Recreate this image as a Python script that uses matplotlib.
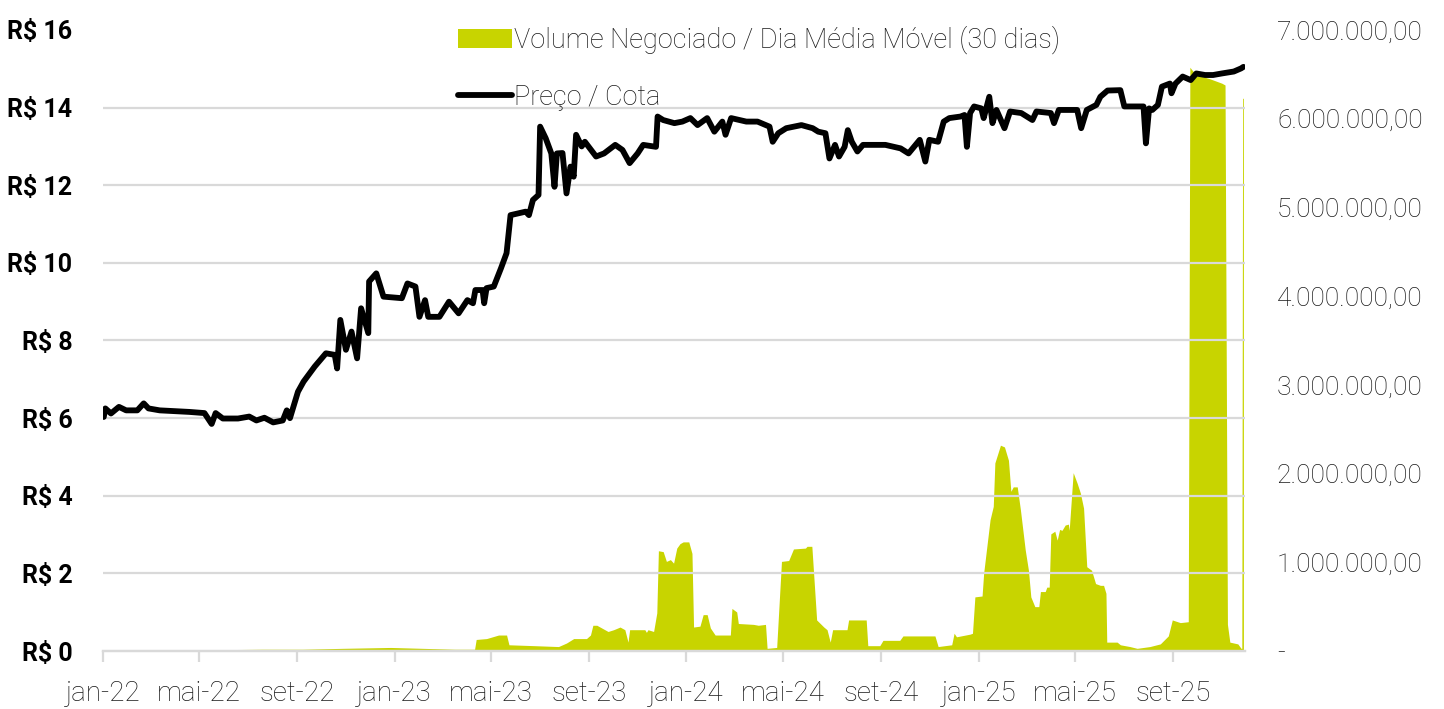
#!/usr/bin/env python3

import numpy as np
import pandas as pd
import matplotlib
matplotlib.use("Agg")
import matplotlib.pyplot as plt
import matplotlib.dates as mdates
from matplotlib.ticker import FuncFormatter, MultipleLocator, FixedLocator

plt.rcParams['font.family'] = ['Roboto', 'DejaVu Sans']

# data; time is in days since 2022-01-01
start = pd.Timestamp('2022-01-01')

price_day = [1, 3, 10, 20, 29, 43, 51, 57, 71, 90, 108, 127, 136, 141, 150, 169, 183, 192, 202, 213,
             225, 230, 234, 244, 251, 265, 279, 290, 293, 297, 304, 311, 318, 323, 332, 333, 342, 351,
             374, 381, 391, 396, 403, 407, 421, 433, 445, 456, 463, 466, 475, 477, 480, 489, 498, 505,
             510, 529, 533, 538, 545, 547, 554, 561, 565, 568, 575, 580, 585, 589, 592, 599, 603, 617,
             627, 641, 650, 659, 669, 676, 692, 694, 701, 715, 725, 735, 744, 756, 765, 775, 779, 786,
             805, 819, 834, 838, 845, 855, 874, 888, 895, 904, 909, 916, 921, 928, 932, 937, 944, 951,
             979, 998, 1008, 1022, 1029, 1034, 1045, 1052, 1059, 1073, 1078, 1081, 1085, 1090, 1099,
             1102, 1109, 1113, 1118, 1128, 1135, 1149, 1163, 1168, 1186, 1190, 1196, 1219, 1224, 1231,
             1243, 1248, 1257, 1273, 1278, 1302, 1305, 1309, 1313, 1320, 1325, 1335, 1337, 1342, 1351,
             1361, 1368, 1379, 1389, 1400, 1415, 1424, 1427]
price = [6.03, 6.25, 6.12, 6.29, 6.20, 6.20, 6.38, 6.25, 6.20, 6.18, 6.16, 6.13, 5.85, 6.13, 5.99, 5.99,
         6.04, 5.94, 6.01, 5.89, 5.94, 6.20, 6.00, 6.68, 6.94, 7.33, 7.67, 7.63, 7.28, 8.53, 7.76, 8.23,
         7.54, 8.83, 8.19, 9.52, 9.73, 9.13, 9.09, 9.47, 9.39, 8.61, 9.04, 8.61, 8.61, 9.00, 8.70, 9.04,
         8.96, 9.30, 9.30, 8.96, 9.35, 9.39, 9.86, 10.25, 11.23, 11.32, 11.23, 11.62, 11.75, 13.51, 13.21,
         12.82, 11.96, 12.82, 12.83, 11.79, 12.48, 12.22, 13.30, 13.00, 13.12, 12.74, 12.82, 13.04, 12.91,
         12.57, 12.82, 13.04, 12.99, 13.77, 13.68, 13.60, 13.64, 13.73, 13.55, 13.73, 13.38, 13.64, 13.30,
         13.73, 13.64, 13.64, 13.51, 13.12, 13.34, 13.47, 13.55, 13.47, 13.38, 13.34, 12.69, 13.04, 12.74,
         12.99, 13.42, 13.12, 12.87, 13.04, 13.04, 12.95, 12.82, 13.17, 12.61, 13.17, 13.12, 13.64, 13.73,
         13.77, 13.81, 12.99, 13.86, 14.03, 13.98, 13.73, 14.28, 13.60, 13.94, 13.47, 13.90, 13.86, 13.68,
         13.90, 13.86, 13.60, 13.94, 13.94, 13.47, 13.94, 14.07, 14.28, 14.44, 14.45, 14.03, 14.03, 13.08,
         13.98, 13.94, 14.07, 14.54, 14.62, 14.37, 14.62, 14.80, 14.71, 14.88, 14.84, 14.84, 14.88, 14.93,
         15.01, 15.05]

vol_day = [0, 100, 150, 200, 250, 300, 360, 400, 440, 465, 467, 480, 495, 505, 508, 540, 570, 580, 589,
           605, 610, 613, 618, 624, 632, 639, 647, 653, 657, 659, 678, 680, 682, 689, 693, 695, 701, 705,
           710, 714, 718, 722, 726, 733, 737, 739, 747, 751, 756, 760, 766, 785, 787, 793, 795, 814, 820,
           829, 831, 843, 849, 858, 864, 879, 881, 887, 893, 902, 906, 910, 913, 931, 933, 955, 957, 972,
           976, 997, 1001, 1041, 1045, 1062, 1065, 1068, 1085, 1088, 1091, 1100, 1102, 1110, 1114, 1116,
           1123, 1128, 1133, 1136, 1139, 1144, 1148, 1154, 1158, 1161, 1166, 1171, 1173, 1179, 1181, 1184,
           1186, 1191, 1194, 1197, 1200, 1204, 1208, 1209, 1214, 1219, 1223, 1227, 1231, 1237, 1242, 1248,
           1252, 1255, 1256, 1269, 1273, 1285, 1294, 1310, 1323, 1333, 1338, 1348, 1358, 1360, 1367, 1385,
           1400, 1404, 1407, 1410, 1420, 1424, 1425, 1426, 1427]
# volume in millions of R$
vol_mi = [0.01, 0.01, 0.015, 0.02, 0.02, 0.03, 0.04, 0.03, 0.02, 0.02, 0.13, 0.14, 0.18, 0.18, 0.07, 0.06,
          0.05, 0.09, 0.14, 0.14, 0.18, 0.29, 0.29, 0.26, 0.22, 0.24, 0.27, 0.24, 0.10, 0.24, 0.24, 0.21,
          0.24, 0.22, 0.43, 1.13, 1.12, 1.01, 1.03, 0.99, 1.16, 1.21, 1.23, 1.23, 1.10, 0.27, 0.28, 0.41,
          0.41, 0.26, 0.18, 0.18, 0.48, 0.44, 0.31, 0.30, 0.29, 0.30, 0.03, 0.04, 1.01, 1.02, 1.15, 1.16,
          1.18, 1.18, 0.35, 0.27, 0.24, 0.10, 0.24, 0.24, 0.35, 0.35, 0.06, 0.06, 0.12, 0.12, 0.17, 0.17,
          0.05, 0.07, 0.20, 0.16, 0.19, 0.20, 0.61, 0.62, 0.88, 1.48, 1.63, 2.12, 2.32, 2.30, 2.15, 1.80,
          1.85, 1.85, 1.59, 1.14, 0.91, 0.61, 0.50, 0.50, 0.67, 0.67, 0.72, 0.72, 1.32, 1.35, 1.25, 1.37,
          1.36, 1.42, 1.43, 1.36, 2.01, 1.89, 1.78, 1.61, 0.95, 0.91, 0.76, 0.74, 0.74, 0.65, 0.10, 0.10,
          0.07, 0.05, 0.03, 0.05, 0.08, 0.17, 0.35, 0.32, 0.33, 6.58, 6.50, 6.45, 6.40, 6.38, 0.30, 0.10,
          0.08, 0.03, 0.03, 6.23, 6.23]

price_ticks = [0, 2, 4, 6, 8, 10, 12, 14, 16]
vol_ticks = [0, 1e6, 2e6, 3e6, 4e6, 5e6, 6e6, 7e6]
month_pt = {1: 'jan', 5: 'mai', 9: 'set'}

green = '#C8D400'
grid_c = '#D9D9D9'
text_c = '#1A1A1A'

price_dates = start + pd.to_timedelta(price_day, unit='D')
vol_dates = start + pd.to_timedelta(vol_day, unit='D')
vol = np.array(vol_mi) * 1e6

fig = plt.figure(figsize=(14.44, 7.09), dpi=100)
ax = fig.add_axes([0.0713, 0.0818, 0.7909, 0.8759])
ax2 = ax.twinx()
ax.set_zorder(ax2.get_zorder() + 1)
ax.patch.set_visible(False)

# volume (right axis), behind the price
ax2.fill_between(vol_dates, vol, color=green, lw=0, label='Volume Negociado / Dia Média Móvel (30 dias)')
ax2.set_ylim(0, 7e6)
ax2.yaxis.set_major_locator(FixedLocator(vol_ticks))
ax2.yaxis.set_major_formatter(FuncFormatter(
    lambda v, p: '-' if v == 0 else f'{v:,.2f}'.replace(',', 'X').replace('.', ',').replace('X', '.')))
# grid follows the left (price) scale: 7M / 8 steps
ax2.yaxis.set_minor_locator(MultipleLocator(7e6 / 8))
ax2.grid(which='minor', axis='y', color=grid_c, lw=1.6)
ax2.tick_params(axis='y', which='both', length=0, pad=23, labelsize=19, labelcolor=text_c)
for lab in ax2.get_yticklabels():
    lab.set_fontweight('light')

# price (left axis)
ax.plot(price_dates, price, color='black', lw=4.2, solid_joinstyle='round',
        solid_capstyle='round', label='Preço / Cota')
ax.set_ylim(0, 16)
ax.yaxis.set_major_locator(FixedLocator(price_ticks))
ax.yaxis.set_major_formatter(FuncFormatter(lambda v, p: f'R$ {v:.0f}'))
ax.tick_params(axis='y', length=0, pad=22, labelsize=18)
for lab in ax.get_yticklabels():
    lab.set_fontweight('bold')

ax.set_xlim(start, pd.Timestamp('2025-11-30'))
ax.xaxis.set_major_locator(mdates.MonthLocator(bymonth=[1, 5, 9]))
ax.xaxis.set_major_formatter(FuncFormatter(
    lambda v, p: f"{month_pt[mdates.num2date(v).month]}-{mdates.num2date(v):%y}"))
ax.tick_params(axis='x', length=8, width=1.6, color=grid_c, pad=13, labelsize=20, labelcolor=text_c)
for lab in ax.get_xticklabels():
    lab.set_fontweight('light')

for a in (ax, ax2):
    for s in ('top', 'left', 'right'):
        a.spines[s].set_visible(False)
    a.spines['bottom'].set_color(grid_c)
    a.spines['bottom'].set_linewidth(1.6)

h1, l1 = ax2.get_legend_handles_labels()
h2, l2 = ax.get_legend_handles_labels()
ax.legend(h1 + h2, l1 + l2, loc='upper left', bbox_to_anchor=(444 / 1444, 1 - 12 / 709),
          bbox_transform=fig.transFigure, frameon=False, borderpad=0,
          prop={'size': 19.5, 'weight': 'light'},
          handlelength=2.0, handletextpad=0.1, labelspacing=1.1, labelcolor=text_c)

fig.savefig('out.png', dpi=100)
